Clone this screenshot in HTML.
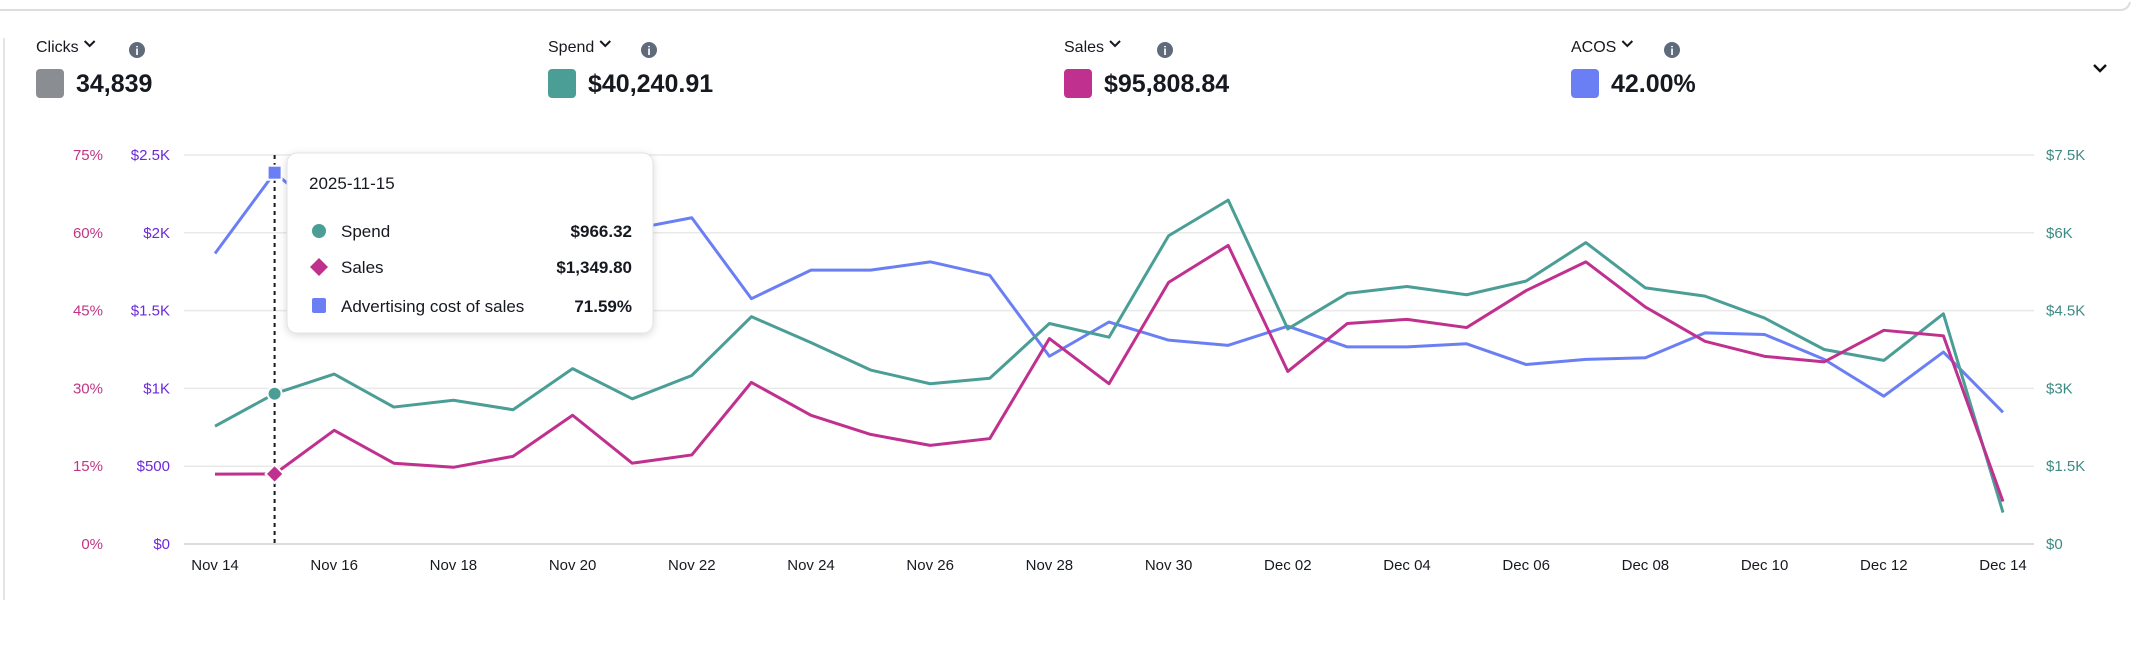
<!DOCTYPE html>
<html><head><meta charset="utf-8"><style>
html,body{margin:0;padding:0;background:#fff;width:2136px;height:650px;overflow:hidden;font-family:"Liberation Sans",sans-serif;}
</style></head><body>
<svg width="2136" height="650" xmlns="http://www.w3.org/2000/svg" font-family="Liberation Sans, sans-serif">
<defs><filter id="sh" x="-10%" y="-10%" width="120%" height="130%"><feDropShadow dx="0" dy="2" stdDeviation="4" flood-color="#000" flood-opacity="0.15"/></filter></defs>
<path d="M0 10 H2120 Q2128 10 2130 2" fill="none" stroke="#ddd" stroke-width="2"/>
<path d="M4 38 V600" stroke="#e5e5e5" stroke-width="2"/>
<g id="metrics"></g>
<path d="M2094 65 l6 6 l6 -6" fill="none" stroke="#111" stroke-width="2.4"/>
<g id="grid"></g><g id="axes"></g><g id="series"></g><g id="tip"></g>
</svg>
<script>
const categories=["Nov 14","Nov 15","Nov 16","Nov 17","Nov 18","Nov 19","Nov 20","Nov 21","Nov 22","Nov 23","Nov 24","Nov 25","Nov 26","Nov 27","Nov 28","Nov 29","Nov 30","Dec 01","Dec 02","Dec 03","Dec 04","Dec 05","Dec 06","Dec 07","Dec 08","Dec 09","Dec 10","Dec 11","Dec 12","Dec 13","Dec 14"];
const spendValues=[757,966,1092,880,924,863,1127,933,1083,1461,1294,1118,1030,1065,1417,1329,1981,2210,1382,1611,1655,1602,1690,1937,1646,1593,1452,1250,1180,1479,202];
const salesValues=[1347,1350,2192,1558,1479,1690,2482,1558,1717,3116,2482,2113,1901,2033,3961,3090,5044,5757,3327,4252,4331,4173,4886,5440,4569,3908,3618,3512,4120,4014,819];
const acosValues=[56.0,71.59,62,58,60,61,58,60.7,62.9,47.3,52.8,52.8,54.4,51.8,36.2,42.8,39.3,38.3,42.0,38.0,38.0,38.6,34.6,35.6,35.9,40.7,40.4,35.6,28.5,37.0,25.4];
const pctTicks=["0%","15%","30%","45%","60%","75%"];
const leftTicks=["$0","$500","$1K","$1.5K","$2K","$2.5K"];
const rightTicks=["$0","$1.5K","$3K","$4.5K","$6K","$7.5K"];
const xLabelIdx=[0,2,4,6,8,10,12,14,16,18,20,22,24,26,28,30];
const xTickLabels=["Nov 14","Nov 16","Nov 18","Nov 20","Nov 22","Nov 24","Nov 26","Nov 28","Nov 30","Dec 02","Dec 04","Dec 06","Dec 08","Dec 10","Dec 12","Dec 14"];
const metricNames=["Clicks","Spend","Sales","ACOS"];
const metricValues=["34,839","$40,240.91","$95,808.84","42.00%"];

const NS="http://www.w3.org/2000/svg";
function mk(p,t,a,txt){const e=document.createElementNS(NS,t);for(const k in a)e.setAttribute(k,a[k]);if(txt!==undefined)e.textContent=txt;p.appendChild(e);return e;}
const X0=215,X1=2003,YT=155,YB=544;
const x=i=>X0+(X1-X0)*i/(categories.length-1);
const yL=v=>YB-(YB-YT)*v/2500, yR=v=>YB-(YB-YT)*v/7500, yP=v=>YB-(YB-YT)*v/75;

const met=document.getElementById('metrics');
const mX=[36,548,1064,1571], mCol=["#8a8d91","#4a9e96","#c0308f","#6b7ff5"];
metricNames.forEach((n,i)=>{
  const g=mk(met,'g',{});
  
  
  const t=mk(g,'text',{x:mX[i],y:52,'font-size':16,fill:'#16191f'},n);
   
  const w=t.getComputedTextLength();
  const c=mk(g,'path',{d:`M${mX[i]+w+6} 41 l5 5 l5 -5`,fill:'none',stroke:'#16191f','stroke-width':2});
   
  const ic=mk(g,'g',{});
   
  const ix=mX[i]+101;
  mk(ic,'circle',{cx:ix,cy:50,r:8,fill:'#5f6b7a'});
  mk(ic,'text',{x:ix,y:55,'font-size':12,'font-weight':'bold',fill:'#fff','text-anchor':'middle'},'i');
  const sq=mk(g,'rect',{x:mX[i],y:69,width:28,height:29,rx:4,fill:mCol[i]});
   
  const v=mk(g,'text',{x:mX[i]+40,y:92,'font-size':25,'font-weight':'bold',fill:'#16191f'},metricValues[i]);
   
});

const grid=document.getElementById('grid'), ax=document.getElementById('axes');
for(let k=0;k<6;k++){
  const gy=YB-(YB-YT)*k/5;
  const l=mk(grid,'line',{x1:184,x2:2034,y1:gy,y2:gy,stroke:k===0?'#dcdcdc':'#e9e9e9','stroke-width':k===0?2:1.5});
   
  const a=mk(ax,'text',{x:103,y:gy+5,'font-size':15,fill:'#c13584','text-anchor':'end'},pctTicks[k]);
   
  const b=mk(ax,'text',{x:170,y:gy+5,'font-size':15,fill:'#6d28d9','text-anchor':'end'},leftTicks[k]);
   
  const c=mk(ax,'text',{x:2046,y:gy+5,'font-size':15,fill:'#3d8a84'},rightTicks[k]);
   
}
xLabelIdx.forEach((idx,j)=>{
  const t=mk(ax,'text',{x:x(idx),y:570,'font-size':15,fill:'#16191f','text-anchor':'middle'},xTickLabels[j]);
   
});

const ser=document.getElementById('series');
const hl=mk(ser,'line',{x1:x(1),x2:x(1),y1:YT,y2:YB,stroke:'#16191f','stroke-width':2,'stroke-dasharray':'4 4'});
 
function line(vals,fy,col,name){
  const p=mk(ser,'polyline',{points:vals.map((v,i)=>x(i)+','+fy(v)).join(' '),fill:'none',stroke:col,'stroke-width':3,'stroke-linejoin':'round'});
   
}
line(acosValues,yP,'#6b7ff5','acos-line');
line(spendValues,yL,'#4a9e96','spend-line');
line(salesValues,yR,'#c0308f','sales-line');
const m1=mk(ser,'circle',{cx:x(1),cy:yL(spendValues[1]),r:7,fill:'#4a9e96',stroke:'#fff','stroke-width':2});
 
const sy=yR(salesValues[1]);
const m2=mk(ser,'path',{d:`M${x(1)} ${sy-9} l9 9 l-9 9 l-9 -9z`,fill:'#c0308f',stroke:'#fff','stroke-width':2});
 
const ay=yP(acosValues[1]);
const m3=mk(ser,'rect',{x:x(1)-7,y:ay-7,width:14,height:14,fill:'#6b7ff5',stroke:'#fff','stroke-width':2});
 

const tip=document.getElementById('tip');
const tg=mk(tip,'g',{});
 
mk(tg,'rect',{x:287,y:153,width:366,height:180,rx:10,fill:'#fff',stroke:'#e3e3e3',filter:'url(#sh)'});
mk(tg,'text',{x:309,y:189,'font-size':17,fill:'#16191f'},'2025-11-15');
mk(tg,'circle',{cx:319,cy:231,r:7,fill:'#4a9e96'});
mk(tg,'path',{d:'M319 258 l9 9 l-9 9 l-9 -9z',fill:'#c0308f'});
mk(tg,'rect',{x:312,y:298,width:14,height:15,rx:2,fill:'#6b7ff5'});
[["Spend","$966.32",237],["Sales","$1,349.80",273],["Advertising cost of sales","71.59%",312]].forEach(r=>{
  mk(tg,'text',{x:341,y:r[2],'font-size':17,fill:'#16191f'},r[0]);
  mk(tg,'text',{x:632,y:r[2],'font-size':17,'font-weight':'bold',fill:'#16191f','text-anchor':'end'},r[1]);
});
</script>
</body></html>
